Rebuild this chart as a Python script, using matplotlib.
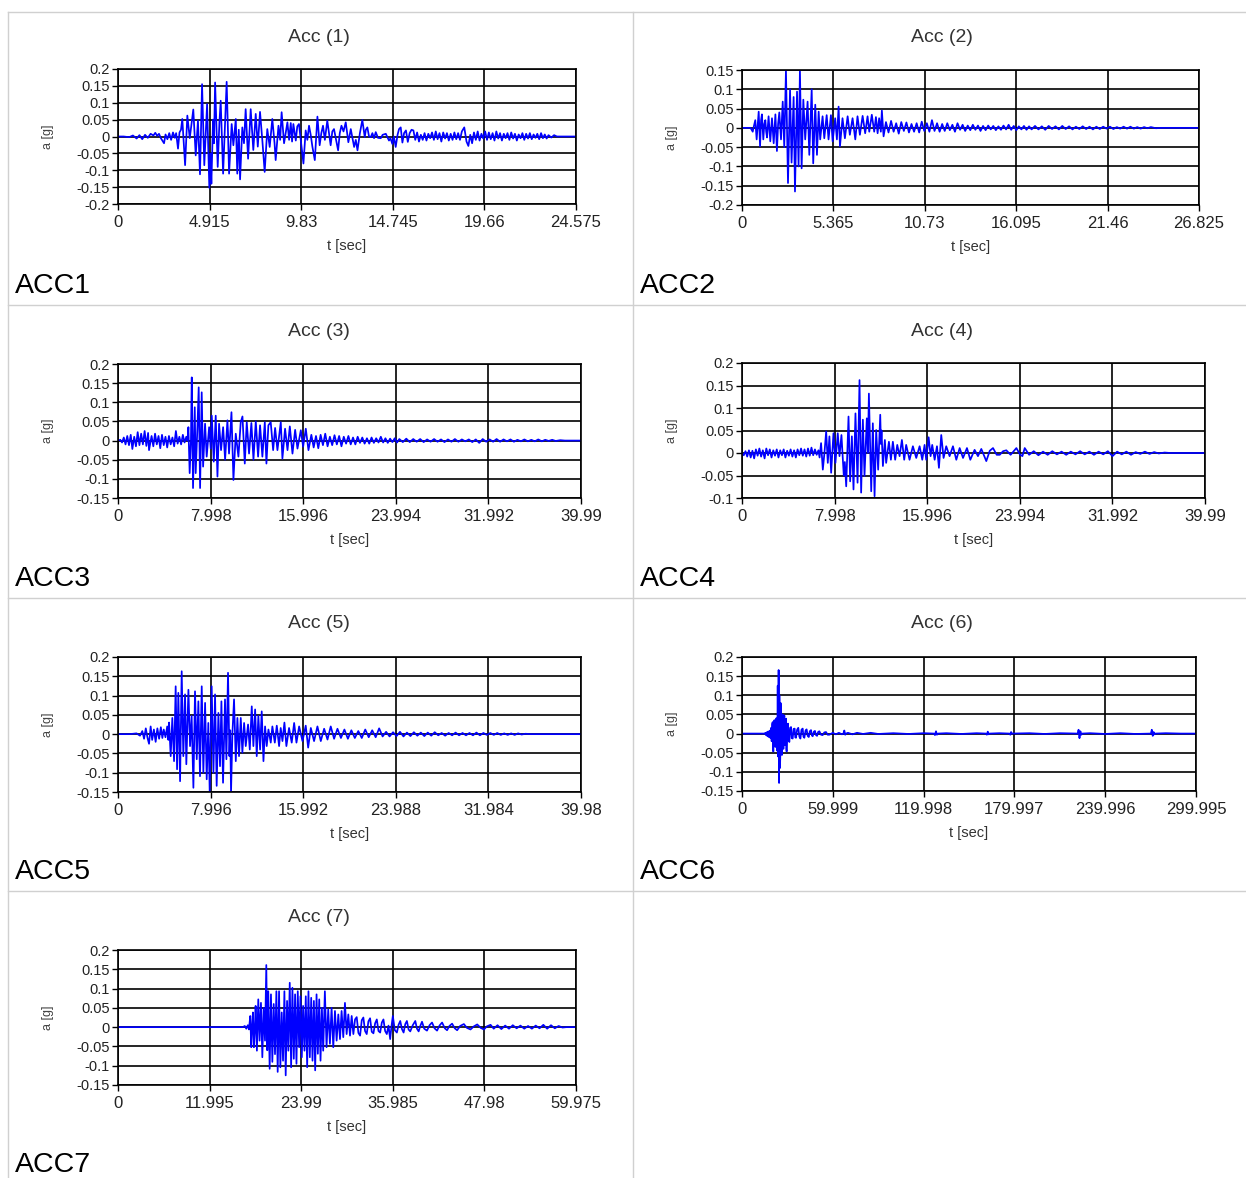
import matplotlib
matplotlib.use("Agg")
import matplotlib.pyplot as plt
from matplotlib.lines import Line2D

# ---------------- data (time [s], acceleration [g]) ----------------
acc1_pts = [
    (0, 0), (0.3, 0), (0.6, -0.002), (0.8, 0.003), (1.0, -0.006), (1.15, 0.004), (1.3, -0.008), (1.45, 0.005),
    (1.6, -0.004), (1.75, 0.008), (1.9, 0.003), (2.0, 0.011), (2.1, 0.002), (2.2, 0.008), (2.3, -0.005),
    (2.47, -0.02), (2.55, 0.006), (2.65, -0.008), (2.75, 0.01), (2.85, -0.01), (2.95, 0.012), (3.05, -0.004),
    (3.12, 0.01), (3.22, -0.036), (3.3, 0.012), (3.38, 0.02),
    (3.45, 0.052), (3.60, -0.085), (3.72, 0.062), (3.85, -0.005), (4.04, 0.080), (4.17, -0.056), (4.29, 0.047),
    (4.40, -0.112), (4.51, 0.155), (4.63, -0.085), (4.78, 0.096), (4.90, -0.152), (4.96, -0.05), (5.01, -0.14),
    (5.10, 0.05), (5.15, -0.02), (5.21, 0.160), (5.35, -0.090), (5.44, 0.04), (5.51, 0.106), (5.64, -0.110),
    (5.74, 0.03), (5.83, 0.162), (5.96, -0.110), (6.10, 0.037), (6.19, -0.026), (6.32, 0.052), (6.40, -0.110),
    (6.48, 0.02), (6.55, -0.127), (6.67, 0.027), (6.76, -0.02), (6.85, 0.081), (6.98, -0.066), (7.12, 0.081),
    (7.26, -0.040), (7.39, 0.067), (7.50, -0.03), (7.62, 0.073), (7.75, -0.015), (7.87, -0.105), (8.01, 0.022),
    (8.14, -0.031), (8.28, 0.052), (8.40, -0.02), (8.46, -0.070), (8.61, 0.032), (8.70, -0.01), (8.78, 0.072),
    (8.91, -0.02), (9.00, 0.01), (9.09, 0.042), (9.18, -0.01), (9.27, 0.04), (9.34, -0.015), (9.41, 0.037),
    (9.54, -0.012), (9.62, 0.03), (9.71, 0.037), (9.84, -0.026), (9.95, -0.080), (10.07, 0.018), (10.16, -0.01),
    (10.25, 0.032), (10.34, 0.005), (10.43, -0.03), (10.56, -0.070), (10.70, 0.059), (10.82, -0.026),
    (10.91, 0.01), (11.00, 0.032), (11.10, -0.01), (11.23, 0.047), (11.32, 0.01), (11.41, -0.026),
    (11.50, 0.015), (11.59, 0.022), (11.70, -0.01), (11.81, -0.041), (11.90, 0.01), (11.99, 0.032),
    (12.10, 0.015), (12.22, 0.042), (12.36, -0.017), (12.49, 0.022), (12.58, -0.005), (12.67, -0.031),
    (12.76, -0.01), (12.85, -0.041), (12.98, 0.01), (13.11, 0.049), (13.24, -0.002), (13.30, 0.02),
    (13.38, 0.027), (13.47, 0.0), (13.56, -0.002), (13.65, 0.01), (13.74, -0.005), (13.83, 0.013),
    (13.95, -0.004), (14.10, -0.005), (14.20, 0.005), (14.37, 0.008), (14.54, -0.012), (14.62, -0.005),
    (14.72, -0.022), (14.80, 0.0), (14.90, -0.031), (15.00, 0.005), (15.08, 0.022), (15.17, 0.027),
    (15.26, -0.018), (15.35, 0.01), (15.45, 0.018), (15.55, -0.016), (15.65, 0.01), (15.75, 0.02),
    (15.85, 0.018), (15.95, -0.01), (16.05, 0.012), (16.15, -0.015), (16.25, 0.005), (16.35, -0.01),
    (16.45, 0.01), (16.55, -0.012), (16.65, 0.008), (16.75, -0.005), (16.85, 0.012), (16.95, -0.01),
    (17.05, 0.015), (17.15, -0.008), (17.25, 0.01), (17.35, -0.015), (17.45, 0.012), (17.55, -0.006),
    (17.65, 0.01), (17.75, -0.012), (17.85, 0.008), (17.95, -0.01), (18.05, 0.012), (18.15, -0.008),
    (18.25, 0.01), (18.35, -0.01), (18.45, 0.015), (18.58, 0.027), (18.70, -0.015), (18.80, -0.028),
    (18.90, 0.005), (19.00, -0.02), (19.10, 0.012), (19.20, -0.01), (19.30, 0.015), (19.40, -0.012),
    (19.50, 0.008), (19.60, -0.006), (19.70, 0.015), (19.80, -0.01), (19.90, 0.012), (20.00, -0.008),
    (20.10, 0.01), (20.20, -0.012), (20.30, 0.015), (20.40, -0.006), (20.50, 0.01), (20.60, -0.012),
    (20.70, 0.008), (20.80, -0.005), (20.90, 0.01), (21.00, -0.01), (21.10, 0.012), (21.20, -0.006),
    (21.30, 0.008), (21.40, -0.012), (21.50, 0.006), (21.60, -0.005), (21.70, 0.01), (21.80, -0.01),
    (21.90, 0.008), (22.00, -0.006), (22.10, 0.01), (22.20, -0.008), (22.30, 0.006), (22.40, -0.004),
    (22.50, 0.008), (22.60, -0.008), (22.70, 0.01), (22.80, -0.005), (22.90, 0.006), (23.00, -0.006),
    (23.10, 0.004), (23.25, -0.003), (23.40, 0.004), (23.55, 0.0), (23.8, 0.0), (24.575, 0.0),
]

acc2_pts = [
    (0, 0), (0.5, 0), (0.63, -0.01), (0.70, 0.005), (0.78, 0.02), (0.86, -0.03), (0.98, 0.042), (1.06, -0.048),
    (1.12, 0.02), (1.17, 0.035), (1.25, -0.03), (1.31, 0.01), (1.37, 0.02), (1.42, -0.01), (1.47, -0.025),
    (1.56, 0.03), (1.66, -0.035), (1.76, 0.025), (1.86, -0.04), (1.96, 0.035), (2.05, -0.06), (2.12, 0.01),
    (2.19, 0.04), (2.29, -0.03), (2.39, 0.068), (2.48, -0.05), (2.58, 0.15), (2.70, -0.143), (2.82, 0.10),
    (2.91, -0.09), (3.03, 0.08), (3.11, -0.165), (3.23, 0.094), (3.32, -0.10), (3.40, 0.15), (3.50, -0.105),
    (3.60, 0.073), (3.71, -0.03), (3.85, 0.068), (3.95, -0.07), (4.09, 0.10), (4.18, -0.092), (4.30, 0.06),
    (4.40, -0.07), (4.50, 0.042), (4.59, -0.03), (4.73, 0.03), (4.83, -0.027), (4.97, 0.033), (5.08, -0.03),
    (5.22, 0.033), (5.32, -0.035), (5.47, 0.025), (5.57, -0.03), (5.67, 0.055), (5.75, -0.048), (5.90, 0.025),
    (6.04, -0.027), (6.20, 0.03), (6.33, -0.018), (6.49, 0.025), (6.65, -0.03), (6.78, 0.03), (6.92, -0.018),
    (7.08, 0.031), (7.23, -0.014), (7.37, 0.03), (7.47, -0.01), (7.62, 0.034), (7.76, -0.01), (7.86, 0.028),
    (7.96, -0.014), (8.05, 0.025), (8.15, -0.01), (8.21, 0.045), (8.31, -0.022),
    (8.45, 0.015), (8.6, -0.012), (8.75, 0.018), (8.9, -0.01), (9.05, 0.012), (9.2, -0.015), (9.35, 0.015),
    (9.5, -0.008), (9.65, 0.014), (9.8, -0.012), (9.95, 0.01), (10.1, -0.01), (10.25, 0.012), (10.4, -0.012),
    (10.55, 0.016), (10.7, -0.008), (10.85, 0.012), (11.0, -0.01), (11.15, 0.02), (11.3, -0.008),
    (11.45, 0.012), (11.6, -0.01), (11.75, 0.01), (11.9, -0.008), (12.05, 0.012), (12.2, -0.006),
    (12.35, 0.008), (12.5, -0.01), (12.65, 0.012), (12.8, -0.005), (12.95, 0.008), (13.1, -0.008),
    (13.25, 0.006), (13.4, -0.006), (13.55, 0.008), (13.7, -0.005), (13.85, 0.006), (14.0, -0.008),
    (14.15, 0.005), (14.3, -0.006), (14.45, 0.006), (14.6, -0.004), (14.75, 0.005), (14.9, -0.006),
    (15.05, 0.004), (15.2, -0.005), (15.35, 0.006), (15.5, -0.004), (15.65, 0.008), (15.8, -0.005),
    (15.95, 0.005), (16.1, -0.006), (16.25, 0.004), (16.4, -0.004), (16.55, 0.005), (16.7, -0.005),
    (16.85, 0.004), (17.0, -0.004), (17.2, 0.005), (17.4, -0.004), (17.6, 0.004), (17.8, -0.005),
    (18.0, 0.005), (18.2, -0.003), (18.4, 0.004), (18.6, -0.004), (18.8, 0.005), (19.0, -0.003),
    (19.2, 0.004), (19.4, -0.004), (19.6, 0.003), (19.8, -0.003), (20.0, 0.004), (20.2, -0.003),
    (20.4, 0.003), (20.6, -0.004), (20.8, 0.003), (21.0, -0.003), (21.2, 0.003), (21.4, -0.002),
    (21.6, 0.003), (21.8, -0.003), (22.0, 0.002), (22.2, -0.002), (22.4, 0.003), (22.6, -0.002),
    (22.8, 0.003), (23.0, -0.002), (23.2, 0.002), (23.4, -0.002), (23.6, 0.002), (23.8, -0.001),
    (24.0, 0.002), (24.3, -0.001), (24.6, 0.0), (26.825, 0.0),
]

acc3_pts = [
    (0, 0), (0.2, 0.002), (0.35, -0.005), (0.5, 0.008), (0.65, -0.01), (0.8, 0.012), (0.95, -0.012),
    (1.1, 0.015), (1.24, -0.022), (1.4, 0.01), (1.55, -0.015), (1.7, 0.022), (1.85, -0.012), (2.0, 0.018),
    (2.15, -0.01), (2.3, 0.025), (2.45, -0.014), (2.6, 0.02), (2.68, -0.025), (2.9, 0.012), (3.05, -0.015),
    (3.2, 0.018), (3.35, -0.01), (3.5, 0.012), (3.65, -0.02), (3.8, 0.015), (3.95, -0.012), (4.1, 0.01),
    (4.25, -0.018), (4.4, 0.012), (4.55, -0.01), (4.7, 0.008), (4.85, -0.015), (5.0, 0.025), (5.15, -0.008),
    (5.3, 0.01), (5.45, -0.01), (5.6, 0.015), (5.75, -0.005), (5.9, 0.01), (6.0, 0.0),
    (6.08, 0.035), (6.19, -0.085), (6.30, 0.0), (6.37, 0.165), (6.48, -0.124), (6.58, 0.02), (6.63, 0.087),
    (6.71, -0.085), (6.86, 0.035), (6.97, 0.139), (7.09, -0.124), (7.23, 0.126), (7.35, -0.068),
    (7.52, 0.044), (7.66, -0.042), (7.87, 0.035), (8.01, -0.021), (8.10, 0.065), (8.27, -0.055),
    (8.44, 0.065), (8.59, -0.094), (8.73, 0.044), (8.90, -0.025), (9.08, 0.035), (9.25, -0.05),
    (9.45, 0.053), (9.59, -0.034), (9.80, 0.074), (9.97, -0.103), (10.17, 0.018), (10.40, -0.042),
    (10.60, 0.048), (10.75, 0.063), (10.95, -0.06), (11.12, 0.048), (11.32, -0.034), (11.52, 0.046),
    (11.70, -0.05), (11.90, 0.05), (12.10, -0.042), (12.27, 0.04), (12.47, -0.042), (12.68, 0.048),
    (12.82, -0.06), (12.99, 0.04), (13.19, 0.048), (13.40, -0.025), (13.57, 0.033), (13.77, -0.025),
    (14.06, 0.048), (14.20, -0.047), (14.43, 0.031), (14.64, -0.025), (14.84, 0.037), (15.07, -0.034),
    (15.30, 0.028), (15.50, -0.021), (15.79, 0.027), (15.99, -0.016), (16.22, 0.031), (16.45, -0.025),
    (16.7, 0.015), (16.9, -0.018), (17.1, 0.012), (17.3, -0.02), (17.5, 0.015), (17.7, -0.012),
    (17.9, 0.018), (18.1, -0.015), (18.3, 0.01), (18.5, -0.012), (18.7, 0.014), (18.9, -0.01),
    (19.1, 0.012), (19.3, -0.015), (19.5, 0.01), (19.7, -0.008), (19.9, 0.012), (20.1, -0.01),
    (20.3, 0.008), (20.5, -0.01), (20.7, 0.01), (20.9, -0.006), (21.1, 0.008), (21.3, -0.008),
    (21.5, 0.006), (21.7, -0.008), (21.9, 0.008), (22.1, -0.006), (22.3, 0.006), (22.5, -0.005),
    (22.7, 0.01), (22.9, -0.005), (23.1, 0.006), (23.3, -0.006), (23.5, 0.005), (23.7, -0.004),
    (23.9, 0.006), (24.1, -0.005), (24.3, 0.004), (24.6, -0.004), (24.9, 0.005), (25.2, -0.004),
    (25.5, 0.004), (25.8, -0.003), (26.1, 0.004), (26.4, -0.004), (26.7, 0.003), (27.0, -0.003),
    (27.3, 0.004), (27.6, -0.003), (27.9, 0.003), (28.2, -0.004), (28.5, 0.003), (28.8, -0.003),
    (29.1, 0.004), (29.4, -0.003), (29.7, 0.003), (30.0, -0.002), (30.3, 0.003), (30.6, -0.004),
    (30.9, 0.003), (31.2, -0.006), (31.5, 0.004), (31.8, -0.003), (32.1, 0.003), (32.4, -0.003),
    (32.7, 0.004), (33.0, -0.003), (33.3, 0.003), (33.6, -0.002), (33.9, 0.003), (34.2, -0.003),
    (34.5, 0.002), (34.8, -0.002), (35.1, 0.003), (35.4, -0.002), (35.7, 0.002), (36.0, -0.002),
    (36.3, 0.003), (36.6, -0.002), (36.9, 0.002), (37.2, -0.001), (37.5, 0.002), (37.8, -0.001),
    (38.2, 0.001), (38.6, 0.0), (39.99, 0.0),
]

acc4_pts = [
    (0, 0), (0.15, -0.005), (0.3, 0.004), (0.45, -0.008), (0.6, 0.006), (0.75, -0.01), (0.9, 0.005),
    (1.05, -0.012), (1.2, 0.008), (1.35, -0.006), (1.5, 0.01), (1.65, -0.008), (1.8, 0.006), (1.95, -0.012),
    (2.1, 0.01), (2.25, -0.005), (2.4, 0.008), (2.55, -0.01), (2.7, 0.006), (2.85, -0.006), (3.0, 0.008),
    (3.15, -0.01), (3.3, 0.006), (3.45, -0.005), (3.6, 0.008), (3.75, -0.01), (3.9, 0.005), (4.05, -0.006),
    (4.2, 0.008), (4.35, -0.008), (4.5, 0.006), (4.65, -0.01), (4.8, 0.008), (4.95, -0.005), (5.1, 0.01),
    (5.25, -0.006), (5.4, 0.008), (5.55, -0.008), (5.7, 0.01), (5.85, -0.006), (6.0, 0.012), (6.15, -0.005),
    (6.3, 0.008), (6.45, -0.004), (6.6, 0.006), (6.7, -0.01),
    (6.83, 0.022), (6.98, -0.037), (7.12, 0.0), (7.27, 0.048), (7.41, -0.022), (7.55, 0.037), (7.70, -0.044),
    (7.90, 0.044), (8.07, -0.022), (8.27, 0.044), (8.42, -0.007), (8.59, 0.040), (8.79, -0.050),
    (8.88, -0.02), (9.00, -0.074), (9.20, 0.081), (9.34, -0.063), (9.49, 0.037), (9.63, -0.081),
    (9.80, 0.088), (9.98, -0.066), (10.15, 0.162), (10.29, -0.088), (10.44, 0.074), (10.58, -0.051),
    (10.78, 0.077), (10.87, 0.0), (10.96, 0.132), (11.16, -0.085), (11.30, 0.066), (11.45, -0.096),
    (11.59, 0.051), (11.76, -0.037), (11.94, 0.085), (12.0, 0.02), (12.05, 0.05), (12.17, -0.029),
    (12.34, 0.029), (12.45, -0.022), (12.69, 0.025), (12.86, -0.015), (13.03, 0.025), (13.23, -0.015),
    (13.41, 0.018), (13.61, -0.007), (13.81, 0.029), (14.01, -0.015), (14.18, 0.018), (14.47, -0.015),
    (14.76, 0.015), (15.05, -0.011), (15.34, 0.015), (15.57, -0.015), (15.77, 0.018), (15.91, -0.015),
    (16.12, 0.035), (16.29, -0.007), (16.43, 0.018), (16.64, -0.015), (16.84, 0.015), (17.01, -0.033),
    (17.21, 0.04), (17.41, -0.011), (17.64, 0.015), (17.93, -0.007), (18.22, 0.015), (18.51, -0.015),
    (18.80, 0.011), (19.09, -0.011), (19.43, 0.011), (19.72, -0.015), (20.09, 0.007), (20.38, -0.007),
    (20.67, 0.009), (21.10, -0.018), (21.40, 0.005), (21.68, 0.011), (22.00, -0.004), (22.26, -0.004),
    (22.55, 0.004), (22.83, 0.006), (23.20, -0.004), (23.70, 0.011), (24.00, -0.003), (24.22, -0.007),
    (24.42, 0.011), (24.8, -0.004), (25.2, 0.004), (25.6, -0.005), (26.0, 0.003), (26.4, -0.004),
    (26.8, 0.004), (27.2, -0.003), (27.6, 0.003), (28.0, -0.004), (28.4, 0.003), (28.8, -0.003),
    (29.2, 0.004), (29.6, -0.003), (30.0, 0.003), (30.4, -0.004), (30.8, 0.003), (31.2, -0.003),
    (31.6, 0.004), (32.0, -0.007), (32.4, 0.003), (32.8, -0.003), (33.2, 0.003), (33.6, -0.004),
    (34.0, 0.002), (34.4, -0.002), (34.8, 0.003), (35.2, -0.002), (35.6, 0.002), (36.0, -0.001),
    (36.5, 0.001), (37.0, 0.0), (39.99, 0.0),
]

acc5_pts = [
    (0, 0), (1.0, 0), (1.6, 0.002), (1.9, -0.004), (2.1, 0.008), (2.25, -0.012), (2.4, 0.015), (2.55, -0.01),
    (2.68, -0.025), (2.82, 0.02), (2.95, -0.015), (3.1, 0.012), (3.25, -0.02), (3.4, 0.015), (3.55, -0.012),
    (3.7, 0.018), (3.83, -0.01), (3.95, 0.012), (4.1, -0.008), (4.25, 0.02), (4.35, -0.015),
    (4.41, 0.030), (4.55, -0.057), (4.69, 0.042), (4.84, -0.070), (4.98, 0.124), (5.10, -0.091),
    (5.21, 0.107), (5.36, -0.122), (5.50, 0.163), (5.64, -0.057), (5.79, 0.103), (5.90, -0.078),
    (6.08, 0.115), (6.22, -0.031), (6.36, 0.047), (6.51, -0.139), (6.65, 0.111), (6.80, -0.065),
    (6.94, 0.085), (7.08, -0.109), (7.23, 0.124), (7.37, -0.10), (7.52, 0.081), (7.66, -0.117),
    (7.80, 0.029), (7.92, -0.152), (8.09, 0.124), (8.24, -0.10), (8.38, 0.103), (8.52, -0.134),
    (8.67, 0.055), (8.81, -0.083), (8.93, 0.085), (9.07, -0.126), (9.24, 0.09), (9.36, -0.065),
    (9.50, 0.159), (9.62, -0.057), (9.69, 0.01), (9.76, -0.152), (9.88, 0.003), (10.02, 0.09),
    (10.17, -0.07), (10.31, 0.042), (10.45, -0.057), (10.60, 0.042), (10.74, -0.048), (10.89, 0.029),
    (11.03, -0.031), (11.23, 0.025), (11.38, -0.040), (11.55, 0.072), (11.69, -0.031), (11.84, 0.064),
    (11.98, -0.057), (12.12, 0.047), (12.27, -0.040), (12.41, 0.059), (12.56, -0.070), (12.70, 0.020),
    (12.84, -0.031), (12.99, 0.012), (13.19, -0.022), (13.33, 0.02), (13.54, -0.022), (13.71, 0.022),
    (13.91, -0.031), (14.05, 0.016), (14.20, -0.018), (14.37, 0.03), (14.54, -0.031), (14.77, 0.016),
    (15.00, -0.022), (15.21, 0.029), (15.41, -0.022), (15.64, 0.02), (15.93, -0.018), (16.21, 0.022),
    (16.42, -0.035), (16.65, 0.016), (16.93, -0.018), (17.22, 0.02), (17.51, -0.018), (17.80, 0.014),
    (18.09, -0.014), (18.37, 0.02), (18.66, -0.012), (18.95, 0.014),
    (19.25, -0.01), (19.55, 0.012), (19.85, -0.012), (20.15, 0.01), (20.45, -0.01), (20.75, 0.008),
    (21.05, -0.01), (21.35, 0.012), (21.65, -0.008), (21.95, 0.01), (22.25, -0.008), (22.55, 0.015),
    (22.85, -0.006), (23.15, 0.006), (23.45, -0.006), (23.75, 0.005), (24.05, -0.005), (24.35, 0.006),
    (24.65, -0.006), (24.95, 0.004), (25.25, -0.005), (25.55, 0.005), (25.85, -0.004), (26.15, 0.004),
    (26.45, -0.005), (26.75, 0.004), (27.05, -0.004), (27.35, 0.005), (27.65, -0.003), (27.95, 0.003),
    (28.25, -0.004), (28.55, 0.003), (28.85, -0.003), (29.15, 0.004), (29.45, -0.003), (29.75, 0.003),
    (30.05, -0.003), (30.35, 0.003), (30.65, -0.003), (30.95, 0.004), (31.25, -0.003), (31.55, 0.003),
    (31.85, -0.002), (32.15, 0.003), (32.45, -0.002), (32.75, 0.003), (33.05, -0.002), (33.35, 0.002),
    (33.65, -0.002), (33.95, 0.002), (34.25, -0.002), (34.55, 0.002), (34.85, -0.001), (35.2, 0.001),
    (35.6, 0.0), (39.98, 0.0),
]

acc6_pts = [
    (0, 0), (15.0, 0), (15.4, 0.002), (15.8, -0.004), (16.2, 0.003), (16.6, -0.006), (17.0, 0.005),
    (17.4, -0.008), (17.8, 0.006), (18.2, -0.01), (18.6, 0.008), (19.0, -0.012), (19.3, 0.015),
    (19.6, -0.02), (19.9, 0.025), (20.3, 0.03), (20.5, -0.028), (20.7, -0.047), (20.9, 0.02), (21.1, -0.03),
    (21.4, 0.035), (21.6, -0.025), (21.8, 0.03), (22.0, -0.035), (22.2, 0.025), (22.5, -0.03), (22.7, 0.04),
    (22.9, -0.03), (23.1, 0.03), (23.3, -0.045), (23.6, 0.125), (23.9, -0.06), (24.2, 0.166),
    (24.5, -0.129), (24.7, 0.1), (24.9, 0.05), (25.1, -0.09), (25.3, -0.06), (25.5, 0.08), (25.8, 0.056),
    (26.1, -0.05), (26.4, -0.056), (26.6, 0.04), (26.9, 0.05), (27.2, -0.04), (27.5, -0.039), (27.8, 0.04),
    (28.0, 0.047), (28.3, -0.03), (28.6, -0.03), (28.9, 0.03), (29.1, 0.039), (29.3, -0.04), (29.5, -0.047),
    (30.0, 0.02), (30.4, 0.026), (30.9, -0.018), (31.3, -0.022), (31.8, 0.015), (32.4, 0.017),
    (32.9, -0.012), (33.5, -0.013), (34.1, 0.012), (34.8, 0.013), (35.2, -0.01), (35.7, -0.011),
    (36.4, 0.01), (37.2, 0.015), (37.9, -0.008), (38.6, -0.013), (39.3, 0.01), (40.1, 0.013),
    (40.6, -0.008), (41.2, -0.011), (42.0, 0.008), (42.7, 0.011), (43.4, -0.006), (44.1, -0.009),
    (44.8, 0.006), (45.6, 0.009), (46.2, -0.005), (46.7, -0.007), (47.5, 0.005), (48.2, 0.007),
    (48.9, -0.004), (49.6, -0.006), (50.3, 0.004), (51.1, 0.006), (52.2, -0.003), (53.3, -0.004),
    (54.4, 0.003), (55.5, 0.004), (56.6, -0.003), (57.7, -0.003), (60, 0.002), (62, -0.002), (64, 0.002),
    (66, -0.002), (67.0, 0.0), (67.6, 0.008), (68.2, -0.003), (68.8, 0.0), (70, 0.002), (73, -0.002),
    (76, 0.002), (80, -0.001), (85, 0.002), (90, -0.001), (100, 0.001), (110, -0.001), (120, 0.001),
    (127.0, 0.0), (127.5, -0.004), (128.2, 0.006), (128.8, -0.003), (129.5, 0.0), (135, 0.001),
    (145, -0.001), (155, 0.001), (161.3, 0.0), (161.8, -0.003), (162.4, 0.005), (163, -0.002),
    (163.6, 0.0), (170, 0.001), (176.8, 0.0), (177.3, -0.003), (177.8, 0.004), (178.4, 0.0),
    (190, 0.001), (200, -0.001), (210, 0.001), (221.8, 0.0), (222.4, 0.01), (223.0, -0.012),
    (223.6, 0.006), (224.2, -0.003), (224.8, 0.0), (230, 0.001), (240, -0.001), (250, 0.001),
    (260, -0.001), (270.2, 0.0), (270.8, 0.01), (271.4, -0.006), (272, 0.004), (272.6, -0.002),
    (273.2, 0.0), (280, 0.001), (290, 0.0), (299.995, 0.0),
]

acc7_pts = [
    (0, 0), (16.35, 0), (16.6, 0.003), (16.8, -0.004), (17.0, 0.005), (17.15, -0.006),
    (17.32, 0.029), (17.45, -0.052), (17.56, 0.0), (17.67, 0.038), (17.80, -0.052), (17.91, -0.01),
    (18.02, 0.055), (18.19, -0.061), (18.37, 0.072), (18.54, -0.035), (18.72, 0.063), (18.90, -0.078),
    (19.07, 0.05), (19.25, -0.035), (19.42, 0.161), (19.55, -0.06), (19.68, 0.093), (19.86, -0.108),
    (20.03, 0.085), (20.21, -0.09), (20.39, 0.06), (20.56, -0.07), (20.74, 0.093), (20.91, -0.116),
    (21.09, 0.093), (21.26, -0.104), (21.44, 0.038), (21.61, -0.087), (21.79, 0.093), (21.96, -0.125),
    (22.14, 0.068), (22.31, -0.061), (22.49, 0.115), (22.67, -0.104), (22.84, 0.102), (23.02, -0.082),
    (23.19, 0.085), (23.37, -0.095), (23.54, 0.093), (23.72, -0.052), (23.89, 0.08), (24.07, -0.078),
    (24.24, 0.055), (24.42, -0.061), (24.59, 0.08), (24.77, -0.104), (24.94, 0.093), (25.12, -0.078),
    (25.30, 0.076), (25.47, -0.087), (25.65, 0.068), (25.82, -0.112), (26.00, 0.085), (26.17, -0.069),
    (26.35, 0.072), (26.52, -0.087), (26.70, 0.05), (26.87, -0.061), (27.09, 0.093), (27.31, -0.052),
    (27.53, 0.046), (27.75, -0.043), (27.97, 0.05), (28.19, -0.052), (28.41, 0.042), (28.63, -0.035),
    (28.85, 0.033), (29.07, -0.031), (29.28, 0.042), (29.50, -0.026), (29.72, 0.063), (29.94, -0.018),
    (30.16, 0.033), (30.38, -0.022), (30.60, 0.029), (30.82, -0.018), (31.04, 0.02), (31.26, 0.026),
    (31.48, -0.015), (31.70, -0.022), (31.92, 0.018), (32.13, 0.025), (32.35, -0.01), (32.57, -0.018),
    (32.79, 0.015), (33.01, 0.023), (33.23, -0.012), (33.45, -0.016), (33.67, 0.01), (33.89, 0.02),
    (34.11, -0.01), (34.33, -0.014), (34.55, 0.012), (34.76, 0.02), (34.98, -0.01), (35.20, -0.018),
    (35.42, 0.004), (35.64, -0.031), (35.80, 0.0), (35.99, 0.029), (36.25, -0.008), (36.52, -0.014),
    (36.74, 0.006), (36.96, 0.016), (37.18, -0.005), (37.40, -0.014), (37.62, 0.008), (37.83, 0.016),
    (38.05, -0.006), (38.27, -0.011), (38.6, 0.005), (38.93, 0.016), (39.15, -0.004), (39.37, -0.011),
    (39.6, 0.004), (39.81, 0.014), (40.1, -0.004), (40.46, -0.009), (40.8, 0.005), (41.12, 0.012),
    (41.45, -0.003), (41.78, -0.009), (42.1, 0.004), (42.44, 0.012), (42.8, -0.003), (43.09, -0.008),
    (43.4, 0.003), (43.75, 0.009), (44.1, -0.003), (44.41, -0.008), (44.8, 0.003), (45.29, 0.008),
    (45.7, -0.002), (46.16, -0.006), (46.6, 0.002), (47.04, 0.007), (47.5, -0.002), (47.92, -0.006),
    (48.3, 0.002), (48.79, 0.006), (49.2, -0.004), (49.7, 0.005), (50.2, -0.005), (50.7, 0.004),
    (51.2, -0.004), (51.7, 0.005), (52.2, -0.003), (52.7, 0.004), (53.2, -0.004), (53.7, 0.003),
    (54.2, -0.004), (54.7, 0.004), (55.2, -0.003), (55.7, 0.006), (56.2, -0.004), (56.7, 0.005),
    (57.2, -0.003), (57.7, 0.003), (58.2, -0.001), (58.7, 0.0), (59.975, 0.0),
]

titles = ["Acc (1)", "Acc (2)", "Acc (3)", "Acc (4)", "Acc (5)", "Acc (6)", "Acc (7)"]
cell_labels = ["ACC1", "ACC2", "ACC3", "ACC4", "ACC5", "ACC6", "ACC7"]

xticks_list = [
    ["0", "4.915", "9.83", "14.745", "19.66", "24.575"],
    ["0", "5.365", "10.73", "16.095", "21.46", "26.825"],
    ["0", "7.998", "15.996", "23.994", "31.992", "39.99"],
    ["0", "7.998", "15.996", "23.994", "31.992", "39.99"],
    ["0", "7.996", "15.992", "23.988", "31.984", "39.98"],
    ["0", "59.999", "119.998", "179.997", "239.996", "299.995"],
    ["0", "11.995", "23.99", "35.985", "47.98", "59.975"],
]
yticks_list = [
    ["0.2", "0.15", "0.1", "0.05", "0", "-0.05", "-0.1", "-0.15", "-0.2"],
    ["0.15", "0.1", "0.05", "0", "-0.05", "-0.1", "-0.15", "-0.2"],
    ["0.2", "0.15", "0.1", "0.05", "0", "-0.05", "-0.1", "-0.15"],
    ["0.2", "0.15", "0.1", "0.05", "0", "-0.05", "-0.1"],
    ["0.2", "0.15", "0.1", "0.05", "0", "-0.05", "-0.1", "-0.15"],
    ["0.2", "0.15", "0.1", "0.05", "0", "-0.05", "-0.1", "-0.15"],
    ["0.2", "0.15", "0.1", "0.05", "0", "-0.05", "-0.1", "-0.15"],
]
series = [acc1_pts, acc2_pts, acc3_pts, acc4_pts, acc5_pts, acc6_pts, acc7_pts]

# ---------------- layout (pixel boxes: left, top, right, bottom) ----------------
W, H = 1246, 1178
boxes = [
    (118, 69, 576, 204), (742, 70, 1199, 205),
    (118, 364, 581, 498), (742, 363, 1205, 498),
    (118, 657, 581, 792), (742, 657, 1196, 791),
    (118, 950, 576, 1085),
]
cell_left = [8, 633, 8, 633, 8, 633, 8]
cell_top = [12, 12, 305, 305, 598, 598, 891]

REG = ["Liberation Sans", "Arial", "DejaVu Sans"]

fig = plt.figure(figsize=(W / 100, H / 100), dpi=100)
fig.patch.set_facecolor("white")

def fx(x):
    return x / W

def fy(y):
    return 1 - y / H

# table grid lines
gcol = "#d0d0d0"
for yy in [12, 305, 598, 891]:
    fig.add_artist(Line2D([fx(8), fx(1246)], [fy(yy), fy(yy)], color=gcol, lw=1.0))
for xx in [8, 633]:
    fig.add_artist(Line2D([fx(xx), fx(xx)], [fy(12), fy(1178)], color=gcol, lw=1.0))

for i, pts in enumerate(series):
    l, t, r, b = boxes[i]
    ax = fig.add_axes([fx(l), fy(b), (r - l) / W, (b - t) / H])
    ts = [p[0] for p in pts]
    vs = [p[1] for p in pts]
    xl = xticks_list[i]
    yl = yticks_list[i]
    xv = [float(s) for s in xl]
    yv = [float(s) for s in yl]
    ax.set_xlim(xv[0], xv[-1])
    ax.set_ylim(min(yv), max(yv))
    ax.set_xticks(xv)
    ax.set_xticklabels(xl, family=REG, fontsize=12, color="#222222")
    ax.set_yticks(yv)
    ax.set_yticklabels(yl, family=REG, fontsize=10.5, color="#222222")
    ax.grid(True, color="black", lw=1.2)
    ax.set_axisbelow(True)
    for sp in ax.spines.values():
        sp.set_color("black")
        sp.set_linewidth(1.2)
    ax.tick_params(axis="both", direction="out", length=4, width=1, color="black", pad=2)
    ax.tick_params(axis="x", pad=4)
    ax.plot(ts, vs, color="#0000ff", lw=1.25, clip_on=True)

    cx_cell = cell_left[i] + (311 if cell_left[i] == 8 else 309)
    fig.text(fx(cx_cell), fy(cell_top[i] + 26), titles[i], family=REG, fontsize=14,
             ha="center", va="center", color="#333333")
    fig.text(fx((l + r) / 2), fy(b + 42), "t [sec]", family=REG, fontsize=10.5,
             ha="center", va="center", color="#333333")
    fig.text(fx(l - 70), fy((t + b) / 2), "a [g]", family=REG, fontsize=9, rotation=90,
             ha="center", va="center", color="#444444")
    fig.text(fx(cell_left[i] + 7), fy(cell_top[i] + 281), cell_labels[i], family=REG, fontsize=20.5,
             ha="left", va="baseline", color="black")

fig.savefig("out.png", dpi=100, facecolor="white")
